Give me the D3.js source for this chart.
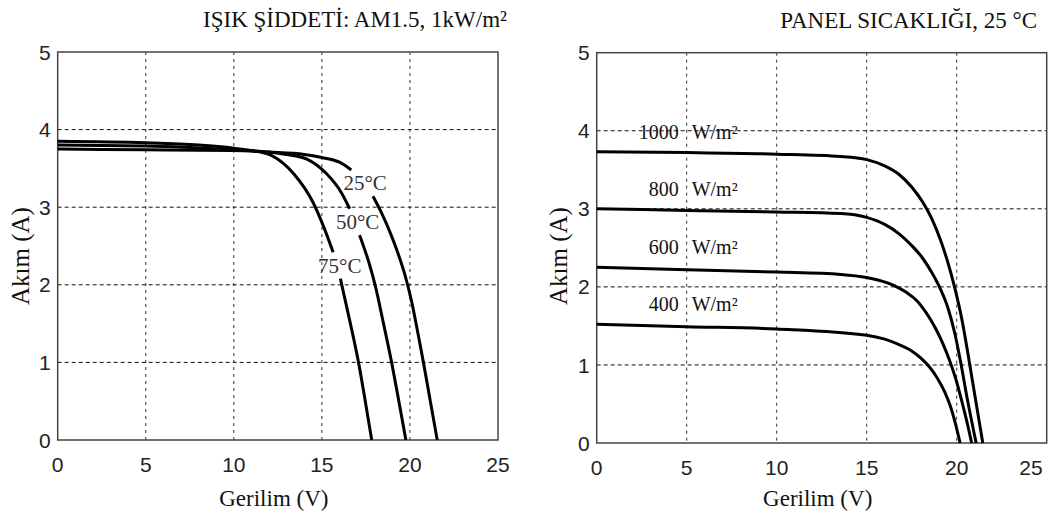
<!DOCTYPE html>
<html>
<head>
<meta charset="utf-8">
<script src="https://cdn.jsdelivr.net/npm/d3@7"></script>
<style>
body { margin: 0; background: #fff; }
svg text { font-family: "Liberation Serif", "Times New Roman", serif; fill: #111; }
svg text.tick-label { font-family: "Liberation Sans", Arial, sans-serif; fill: #222; }
</style>
</head>
<body>
<svg id="chart" width="1049" height="518"></svg>
<script>
/* axis ticks */
var xTicks = [0, 5, 10, 15, 20, 25];
var yTicks = [0, 1, 2, 3, 4, 5];

/* left panel: panel temperature (null = gap left for the label) */
var tempLabels = ['25°C', '50°C', '75°C'];
var voltT25 = [0, 5, 10, 12, 14, 15, 16, 16.67, 17.3, 17.9, 18.4, 18.9, 19.3, 19.7, 20.1, 20.5, 20.75, 21.15, 21.55];
var ampT25  = [3.75, 3.74, 3.73, 3.71, 3.68, 3.64, 3.58, 3.48, null, 3.14, 2.92, 2.66, 2.42, 2.14, 1.78, 1.32, 1.02, 0.51, 0];
var voltT50 = [0, 5, 10, 12, 13, 14.15, 15.27, 16.1, 16.58, 16.86, 17.14, 17.64, 18.02, 18.5, 18.96, 19.37, 19.77];
var ampT50  = [3.80, 3.79, 3.74, 3.71, 3.68, 3.62, 3.43, 3.19, 2.98, null, 2.64, 2.31, 2.0, 1.5, 1.0, 0.5, 0];
var voltT75 = [0, 5, 8, 10, 11, 12.1, 13.4, 14.5, 15.08, 15.64, 15.85, 16.05, 16.55, 17.08, 17.45, 17.83];
var ampT75  = [3.85, 3.83, 3.80, 3.76, 3.73, 3.67, 3.43, 3.06, 2.76, 2.42, null, 2.08, 1.57, 1.0, 0.52, 0];

/* right panel: irradiance */
var irrLabels = ['1000', '800', '600', '400'];
var voltG1000 = [0, 5, 10, 13.56, 15, 16, 16.8, 17.5, 18.1, 18.6, 19.1, 19.5, 19.9, 20.3, 20.6, 21.0, 21.45];
var ampG1000  = [3.73, 3.72, 3.70, 3.67, 3.63, 3.55, 3.44, 3.28, 3.09, 2.88, 2.6, 2.32, 1.98, 1.57, 1.18, 0.62, 0];
var voltG800  = [0, 5, 10, 13.56, 15, 16, 16.8, 17.5, 18.1, 18.6, 19.1, 19.5, 19.9, 20.2, 20.6, 21.08];
var ampG800   = [3.00, 2.98, 2.96, 2.94, 2.89, 2.80, 2.68, 2.53, 2.37, 2.19, 1.97, 1.74, 1.40, 1.06, 0.55, 0];
var voltG600  = [0, 5, 10, 13.56, 15, 16.5, 17.2, 17.8, 18.3, 18.8, 19.2, 19.6, 19.95, 20.3, 20.6, 20.83];
var ampG600   = [2.25, 2.22, 2.19, 2.16, 2.12, 2.02, 1.93, 1.82, 1.67, 1.48, 1.29, 1.06, 0.82, 0.52, 0.24, 0];
var voltG400  = [0, 5, 10, 15, 16, 16.8, 17.5, 18.0, 18.5, 18.9, 19.3, 19.65, 19.95, 20.19];
var ampG400   = [1.52, 1.49, 1.46, 1.38, 1.33, 1.26, 1.18, 1.09, 0.97, 0.84, 0.67, 0.47, 0.23, 0];

var svg = d3.select('#chart');
var W = +svg.attr('width');

function zipCurve(volts, amps) {
	return volts.map(function(v, i) { return { v: v, a: amps[i] }; });
}

var tempCurves = [zipCurve(voltT25, ampT25), zipCurve(voltT50, ampT50), zipCurve(voltT75, ampT75)];
var irrCurves = [zipCurve(voltG1000, ampG1000), zipCurve(voltG800, ampG800),
                 zipCurve(voltG600, ampG600), zipCurve(voltG400, ampG400)];

var panels = [
	{ left: 57.7, right: 498, top: 52, bottom: 440,
	  title: 'IŞIK ŞİDDETİ: AM1.5, 1kW/m²', titleX: 507, titleY: 27,
	  ylabelX: 29, curves: tempCurves },
	{ left: 596.7, right: 1046.7, top: 52.7, bottom: 443,
	  title: 'PANEL SICAKLIĞI, 25 °C', titleX: 1037, titleY: 28,
	  ylabelX: 567, curves: irrCurves }
];

/**
 * Draws one I-V panel (frame, grid, ticks, titles, curves)
 * and hands back its scales.
 */
function drawPanel(p) {
	var x = d3.scaleLinear().domain([0, 25]).range([p.left, p.right]);
	var y = d3.scaleLinear().domain([0, 5]).range([p.bottom, p.top]);
	var g = svg.append('g');

	// grid
	g.selectAll('line.vgrid').data(xTicks.slice(1, -1)).enter().append('line')
		.attr('x1', x).attr('x2', x)
		.attr('y1', p.top).attr('y2', p.bottom)
		.attr('stroke', '#333').attr('stroke-width', 1)
		.attr('stroke-dasharray', '3,4');
	g.selectAll('line.hgrid').data(yTicks.slice(1, -1)).enter().append('line')
		.attr('x1', p.left).attr('x2', p.right)
		.attr('y1', y).attr('y2', y)
		.attr('stroke', '#111').attr('stroke-width', 1)
		.attr('stroke-dasharray', '4,3');

	// frame
	g.append('rect')
		.attr('x', p.left).attr('y', p.top)
		.attr('width', p.right - p.left).attr('height', p.bottom - p.top)
		.attr('fill', 'none').attr('stroke', '#444').attr('stroke-width', 1.5);

	// tick labels (last one pulled inside the window if it would be cut)
	g.selectAll('text.xt').data(xTicks).enter().append('text')
		.attr('class', 'tick-label')
		.attr('x', function(d) { return Math.min(x(d), W - 18); })
		.attr('y', p.bottom + 32)
		.attr('text-anchor', 'middle')
		.style('font-size', '21px')
		.text(function(d) { return d; });
	g.selectAll('text.yt').data(yTicks).enter().append('text')
		.attr('class', 'tick-label')
		.attr('x', p.left - 7).attr('y', y)
		.attr('dy', '0.36em')
		.attr('text-anchor', 'end')
		.style('font-size', '21px')
		.text(function(d) { return d; });

	// axis titles
	g.append('text')
		.attr('x', (p.left + p.right) / 2 - 4).attr('y', 506)
		.attr('text-anchor', 'middle')
		.style('font-size', '23px')
		.text('Gerilim (V)');
	g.append('text')
		.attr('transform', 'translate(' + p.ylabelX + ',' + 256 + ') rotate(-90)')
		.attr('text-anchor', 'middle')
		.style('font-size', '25px')
		.text('Akım (A)');

	// panel title
	g.append('text')
		.attr('x', p.titleX).attr('y', p.titleY)
		.attr('text-anchor', 'end')
		.style('font-size', '23px')
		.text(p.title);

	// curves
	var line = d3.line()
		.defined(function(d) { return d.a !== null; })
		.x(function(d) { return x(d.v); })
		.y(function(d) { return y(d.a); })
		.curve(d3.curveMonotoneX);

	g.selectAll('path.iv').data(p.curves).enter().append('path')
		.attr('d', line)
		.attr('fill', 'none')
		.attr('stroke', '#000')
		.attr('stroke-width', 3)
		.attr('stroke-linejoin', 'round');

	return { x: x, y: y, g: g };
}

var leftPanel = drawPanel(panels[0]);
var rightPanel = drawPanel(panels[1]);

// temperature labels sit in the gap of each curve
tempCurves.forEach(function(c, i) {
	var k = c.findIndex(function(d) { return d.a === null; });
	var before = c[k - 1], after = c[k + 1];
	leftPanel.g.append('text')
		.attr('x', leftPanel.x((before.v + after.v) / 2) + 3)
		.attr('y', leftPanel.y((before.a + after.a) / 2))
		.attr('dy', '0.35em')
		.attr('text-anchor', 'middle')
		.style('font-size', '21px')
		.style('fill', '#333')
		.text(tempLabels[i]);
});

// irradiance labels above the flat part of each curve, split by the 5 V grid line
irrCurves.forEach(function(c, i) {
	var yy = rightPanel.y(c[0].a) - 13;
	var x5 = rightPanel.x(5);
	rightPanel.g.append('text')
		.attr('x', x5 - 8).attr('y', yy)
		.attr('text-anchor', 'end')
		.style('font-size', '20px')
		.text(irrLabels[i]);
	rightPanel.g.append('text')
		.attr('x', x5 + 5).attr('y', yy)
		.attr('text-anchor', 'start')
		.style('font-size', '20px')
		.text('W/m²');
});
</script>
</body>
</html>
